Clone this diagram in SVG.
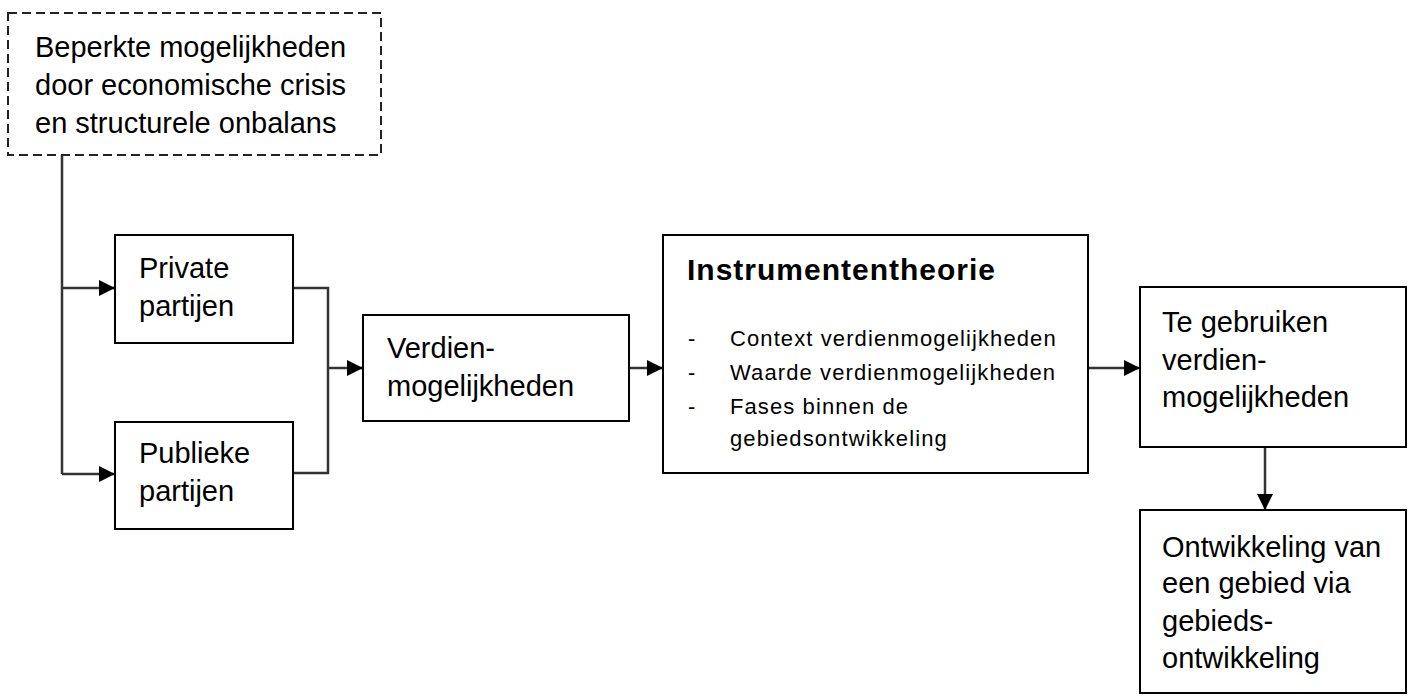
<svg xmlns="http://www.w3.org/2000/svg" width="1410" height="697" viewBox="0 0 1410 697">
<defs>
<marker id="arr" viewBox="0 0 16 16" refX="16" refY="8" markerWidth="16" markerHeight="16" markerUnits="userSpaceOnUse" orient="auto">
<path d="M0,0 L16,8 L0,16 Z" fill="#000"/>
</marker>
<style>
.box{fill:#fff;stroke:#000;stroke-width:2}
.dash{fill:#fff;stroke:#222;stroke-width:2;stroke-dasharray:9 5}
.t{font-family:"Liberation Sans",Arial,sans-serif;font-size:29px;fill:#000}
.b{font-family:"Liberation Sans",Arial,sans-serif;font-size:30px;font-weight:bold;letter-spacing:1px;fill:#000}
.s{font-family:"Liberation Sans",Arial,sans-serif;font-size:22px;letter-spacing:1.1px;fill:#000}
.c{fill:none;stroke:#333;stroke-width:2.5}
</style>
</defs>
<rect width="1410" height="697" fill="#fff"/>
<g id="connectors">
<path class="c" d="M62,155 V474"/>
<path class="c" d="M62,288 H115" marker-end="url(#arr)"/>
<path class="c" d="M62,474 H115" marker-end="url(#arr)"/>
<path class="c" d="M293,288 H328 V473 H293"/>
<path class="c" d="M328,368 H363" marker-end="url(#arr)"/>
<path class="c" d="M629,368 H663" marker-end="url(#arr)"/>
<path class="c" d="M1088,368 H1140" marker-end="url(#arr)"/>
<path class="c" d="M1265,447 V510" marker-end="url(#arr)"/>
</g>
<g id="crisis">
<rect class="dash" x="8" y="13" width="373" height="142"/>
<text class="t" x="35" y="57">Beperkte mogelijkheden</text>
<text class="t" x="35" y="95">door economische crisis</text>
<text class="t" x="35" y="133">en structurele onbalans</text>
</g>
<g id="private">
<rect class="box" x="115" y="235" width="178" height="108"/>
<text class="t" x="139" y="278">Private</text>
<text class="t" x="139" y="316">partijen</text>
</g>
<g id="publiek">
<rect class="box" x="115" y="422" width="178" height="107"/>
<text class="t" x="139" y="463">Publieke</text>
<text class="t" x="139" y="501">partijen</text>
</g>
<g id="verdien">
<rect class="box" x="363" y="315" width="266" height="106"/>
<text class="t" x="387" y="358">Verdien-</text>
<text class="t" x="387" y="396">mogelijkheden</text>
</g>
<g id="instrumenten">
<rect class="box" x="663" y="235" width="425" height="238"/>
<text class="b" x="687" y="280">Instrumententheorie</text>
<text class="s" x="688" y="346">-</text>
<text class="s" x="730" y="346">Context verdienmogelijkheden</text>
<text class="s" x="688" y="380">-</text>
<text class="s" x="730" y="380">Waarde verdienmogelijkheden</text>
<text class="s" x="688" y="414">-</text>
<text class="s" x="730" y="414">Fases binnen de</text>
<text class="s" x="730" y="446">gebiedsontwikkeling</text>
</g>
<g id="tegebruiken">
<rect class="box" x="1140" y="287" width="266" height="160"/>
<text class="t" x="1162" y="332">Te gebruiken</text>
<text class="t" x="1162" y="370">verdien-</text>
<text class="t" x="1162" y="407">mogelijkheden</text>
</g>
<g id="ontwikkeling">
<rect class="box" x="1140" y="510" width="266" height="183"/>
<text class="t" x="1162" y="557">Ontwikkeling van</text>
<text class="t" x="1162" y="593">een gebied via</text>
<text class="t" x="1162" y="631">gebieds-</text>
<text class="t" x="1162" y="668">ontwikkeling</text>
</g>
</svg>
